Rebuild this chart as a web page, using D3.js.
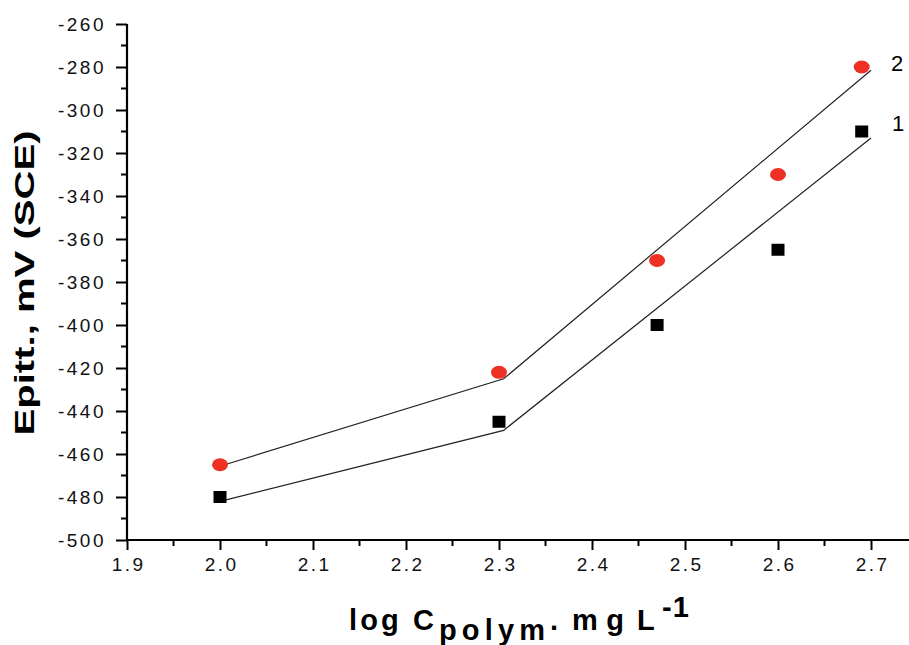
<!DOCTYPE html>
<html><head><meta charset="utf-8">
<script src="https://cdn.jsdelivr.net/npm/d3@7"></script>
<style>body{margin:0;background:#fff}svg{display:block}</style>
</head><body>
<script>
const xVals = [2.0, 2.3, 2.47, 2.6, 2.69];
const series1 = [-480, -445, -400, -365, -310];
const series2 = [-465, -422, -370, -330, -280];
const fit1 = [[2.0, -482], [2.305, -449], [2.7, -313]];
const fit2 = [[2.005, -465], [2.305, -425], [2.7, -281.5]];
const xTicks = [1.9, 2.0, 2.1, 2.2, 2.3, 2.4, 2.5, 2.6, 2.7];
const yTicks = [-500, -480, -460, -440, -420, -400, -380, -360, -340, -320, -300, -280, -260];
const seriesLabels = ["1", "2"];

const W = 909, H = 645;
const svg = d3.select("body").append("svg").attr("width", W).attr("height", H);
const x = d3.scaleLinear().domain([1.9, 2.75]).range([127, 917.5]);
const y = d3.scaleLinear().domain([-500, -260]).range([540, 24]);

const font = "Liberation Sans, Arial, sans-serif";

// minor ticks
const xMinor = d3.range(1.95, 2.76, 0.1);
const yMinor = d3.range(-490, -260, 20);
svg.append("g").selectAll("line").data(xMinor).join("line")
  .attr("x1", d => x(d)).attr("x2", d => x(d)).attr("y1", 540).attr("y2", 546)
  .attr("stroke", "#000").attr("stroke-width", 2);
svg.append("g").selectAll("line").data(yMinor).join("line")
  .attr("y1", d => y(d)).attr("y2", d => y(d)).attr("x1", 127).attr("x2", 121)
  .attr("stroke", "#000").attr("stroke-width", 2);

// axes
const xAxis = svg.append("g").attr("transform", "translate(0,540)")
  .call(d3.axisBottom(x).tickValues(xTicks).tickFormat(d3.format(".1f")).tickSize(10).tickPadding(8));
const yAxis = svg.append("g").attr("transform", "translate(127,0)")
  .call(d3.axisLeft(y).tickValues(yTicks).tickFormat(d => String(d)).tickSize(11).tickPadding(10));
[xAxis, yAxis].forEach(g => {
  g.select(".domain").attr("stroke-width", 2.2).attr("stroke", "#000");
  g.selectAll(".tick line").attr("stroke-width", 2).attr("stroke", "#000");
  g.selectAll("text").attr("font-family", font).attr("font-size", 19)
    .attr("fill", "#111").style("letter-spacing", "2.5px");
});
yAxis.selectAll("text").attr("dy", "0.35em");
xAxis.selectAll("text").attr("dx", 1.2);
xAxis.select(".domain").attr("d", "M127,0H909");
yAxis.select(".domain").attr("d", "M0,540V24");

// fit lines
const line = d3.line().x(d => x(d[0])).y(d => y(d[1]));
[fit1, fit2].forEach(f => {
  svg.append("path").datum(f).attr("d", line).attr("fill", "none")
    .attr("stroke", "#222").attr("stroke-width", 1.2);
});

// markers
svg.append("g").selectAll("rect").data(xVals.map((v, i) => [v, series1[i]])).join("rect")
  .attr("x", d => x(d[0]) - 6.5).attr("y", d => y(d[1]) - 6)
  .attr("width", 13).attr("height", 12).attr("fill", "#000");
svg.append("g").selectAll("ellipse").data(xVals.map((v, i) => [v, series2[i]])).join("ellipse")
  .attr("cx", d => x(d[0])).attr("cy", d => y(d[1]))
  .attr("rx", 8).attr("ry", 6.5).attr("fill", "#ee3124");

// series labels
svg.append("text").attr("x", 892).attr("y", 131).attr("font-family", font).attr("font-size", 22).text(seriesLabels[0]);
svg.append("text").attr("x", 891).attr("y", 71).attr("font-family", font).attr("font-size", 22).text(seriesLabels[1]);

// y title
svg.append("text").attr("transform", "translate(34,283) rotate(-90)")
  .attr("text-anchor", "middle").attr("font-family", font).attr("font-size", 28)
  .attr("font-weight", "bold").attr("textLength", 305).attr("lengthAdjust", "spacingAndGlyphs")
  .text("Epitt., mV (SCE)");

// x title pieces
const xTitle = [
  {t: "log C", x: 349, y: 630, len: 85},
  {t: "polym", x: 439, y: 640, len: 106},
  {t: ".", x: 550, y: 630, len: 8},
  {t: "mg", x: 572, y: 630, len: 52},
  {t: "L", x: 637, y: 630, len: 21},
  {t: "-1", x: 662, y: 617, len: 27}
];
svg.append("g").selectAll("text").data(xTitle).join("text")
  .attr("x", d => d.x).attr("y", d => d.y).attr("font-family", font)
  .attr("font-weight", "bold").attr("font-size", 29)
  .attr("textLength", d => d.len).attr("lengthAdjust", "spacing")
  .text(d => d.t);
</script>
</body></html>
